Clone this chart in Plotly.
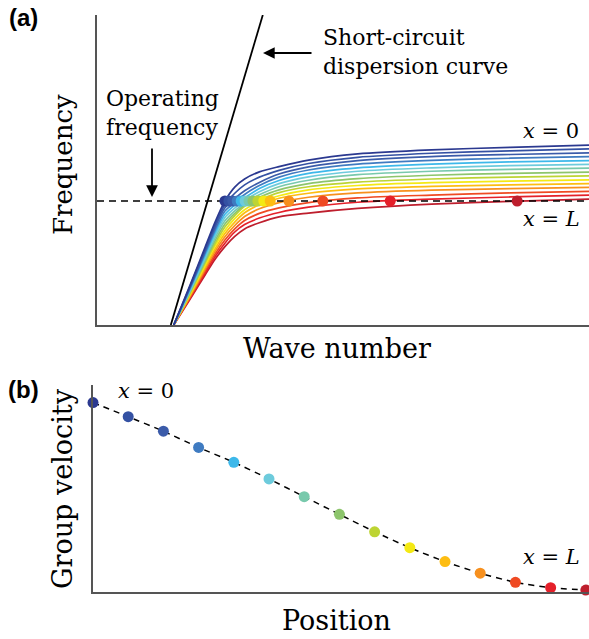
import plotly.graph_objects as go

# ---------------- data: panel (a) dispersion curves ----------------
wave_number = [1.56, 1.9, 2.2, 2.4, 2.6, 2.8, 3.0, 3.3, 3.7, 4.3, 5.3, 6.8, 8.4, 10.0]

freq_x00 = [0, 1.32, 2.52, 3.32, 4.00, 4.45, 4.71, 4.94, 5.11, 5.32, 5.52, 5.65, 5.73, 5.80]
freq_x01 = [0, 1.29, 2.46, 3.23, 3.89, 4.25, 4.52, 4.77, 4.99, 5.21, 5.41, 5.54, 5.62, 5.68]
freq_x02 = [0, 1.25, 2.39, 3.15, 3.78, 4.08, 4.33, 4.60, 4.87, 5.10, 5.30, 5.43, 5.50, 5.55]
freq_x03 = [0, 1.22, 2.33, 3.06, 3.68, 3.95, 4.21, 4.50, 4.77, 5.00, 5.19, 5.31, 5.38, 5.43]
freq_x04 = [0, 1.19, 2.26, 2.98, 3.57, 3.87, 4.10, 4.40, 4.66, 4.89, 5.07, 5.19, 5.26, 5.30]
freq_x05 = [0, 1.15, 2.20, 2.89, 3.47, 3.77, 4.01, 4.30, 4.56, 4.78, 4.96, 5.07, 5.14, 5.18]
freq_x06 = [0, 1.12, 2.13, 2.81, 3.36, 3.68, 3.93, 4.20, 4.46, 4.67, 4.85, 4.96, 5.02, 5.06]
freq_x07 = [0, 1.09, 2.07, 2.72, 3.26, 3.60, 3.88, 4.12, 4.36, 4.56, 4.72, 4.83, 4.89, 4.93]
freq_x08 = [0, 1.05, 2.01, 2.63, 3.16, 3.53, 3.83, 4.04, 4.27, 4.46, 4.61, 4.71, 4.77, 4.81]
freq_x09 = [0, 1.02, 1.94, 2.55, 3.05, 3.43, 3.72, 3.96, 4.17, 4.36, 4.50, 4.59, 4.64, 4.68]
freq_x10 = [0, 0.99, 1.88, 2.46, 2.95, 3.32, 3.62, 3.88, 4.09, 4.25, 4.39, 4.47, 4.52, 4.56]
freq_x11 = [0, 0.95, 1.81, 2.38, 2.85, 3.21, 3.50, 3.75, 3.95, 4.12, 4.26, 4.35, 4.40, 4.44]
freq_x12 = [0, 0.92, 1.75, 2.29, 2.74, 3.10, 3.37, 3.60, 3.78, 3.95, 4.10, 4.19, 4.26, 4.31]
freq_x13 = [0, 0.89, 1.68, 2.21, 2.64, 3.00, 3.24, 3.45, 3.63, 3.80, 3.96, 4.06, 4.13, 4.19]
freq_x14 = [0, 0.85, 1.62, 2.12, 2.53, 2.86, 3.10, 3.30, 3.49, 3.61, 3.76, 3.90, 3.99, 4.06]

short_circuit_k = [1.50, 3.37]
short_circuit_f = [0.0, 10.0]

operating_frequency = 4.0
operating_k = [0.0, 10.0]

dot_wave_number = [2.60, 2.68, 2.76, 2.85, 2.93, 3.01, 3.09, 3.17, 3.27, 3.39, 3.52, 3.90, 4.59, 5.96, 8.54]

# ---------------- data: panel (b) group velocity ----------------
position = [0, 1, 2, 3, 4, 5, 6, 7, 8, 9, 10, 11, 12, 13, 14]
group_velocity = [0.915, 0.847, 0.777, 0.699, 0.627, 0.547, 0.461, 0.376,
                  0.292, 0.215, 0.148, 0.092, 0.048, 0.022, 0.011]

# ---------------- styles ----------------
colors = ["#2B3990", "#3451A3", "#3B5BA9", "#3F7BC1", "#3DB8EA", "#6DCBDC",
          "#78C9AC", "#8DC56C", "#BDD433", "#F4E914", "#FDBD12", "#F7901E",
          "#EF4A23", "#E5202A", "#BE1E2D"]

curves = [freq_x00, freq_x01, freq_x02, freq_x03, freq_x04, freq_x05, freq_x06,
          freq_x07, freq_x08, freq_x09, freq_x10, freq_x11, freq_x12, freq_x13, freq_x14]

W, H = 589, 639
SERIF = "DejaVu Serif"

fig = go.Figure()

for i in range(len(curves) - 1, -1, -1):
    fig.add_trace(go.Scatter(
        x=wave_number, y=curves[i], mode="lines",
        line=dict(color=colors[i], width=1.7, shape="spline", smoothing=0.8),
        xaxis="x", yaxis="y", hoverinfo="skip", showlegend=False))

fig.add_trace(go.Scatter(
    x=short_circuit_k, y=short_circuit_f, mode="lines",
    line=dict(color="black", width=1.8), xaxis="x", yaxis="y",
    showlegend=False, hoverinfo="skip"))

fig.add_trace(go.Scatter(
    x=operating_k, y=[operating_frequency, operating_frequency], mode="lines",
    line=dict(color="black", width=1.5, dash="7px,5px"), xaxis="x", yaxis="y",
    showlegend=False, hoverinfo="skip"))

fig.add_trace(go.Scatter(
    x=dot_wave_number, y=[operating_frequency] * len(dot_wave_number), mode="markers",
    marker=dict(color=colors, size=11, line=dict(width=0)), xaxis="x", yaxis="y",
    showlegend=False, cliponaxis=False))

# panel (b)
fig.add_trace(go.Scatter(
    x=position, y=group_velocity, mode="lines",
    line=dict(color="black", width=1.5, dash="6px,5px", shape="spline", smoothing=0.6),
    xaxis="x2", yaxis="y2", showlegend=False, hoverinfo="skip"))
fig.add_trace(go.Scatter(
    x=position, y=group_velocity, mode="markers",
    marker=dict(color=colors, size=11, line=dict(width=0)),
    xaxis="x2", yaxis="y2", showlegend=False, cliponaxis=False))

axis_common = dict(showgrid=False, zeroline=False, showticklabels=False, ticks="",
                   showline=True, linecolor="#555555", linewidth=1.6, mirror=False,
                   fixedrange=True)

fig.update_layout(
    width=W, height=H,
    margin=dict(l=0, r=0, t=0, b=0),
    paper_bgcolor="white", plot_bgcolor="white",
    xaxis=dict(domain=[97 / W, 1.0], range=[0, 10], anchor="y", **axis_common),
    yaxis=dict(domain=[1 - 325 / H, 1 - 15 / H], range=[0, 10], anchor="x", **axis_common),
    xaxis2=dict(domain=[93 / W, 1.0], range=[0, 14.09], anchor="y2", **axis_common),
    yaxis2=dict(domain=[1 - 592.3 / H, 1 - 385 / H], range=[0, 1.0], anchor="x2", **axis_common),
)


def px(x, y):
    return x / W, 1 - y / H


annotations = []


def label(text, x, y, size, family=SERIF, angle=0, align="center"):
    xx, yy = px(x, y)
    annotations.append(dict(text=text, x=xx, y=yy, xref="paper", yref="paper",
                            showarrow=False, textangle=angle, align=align,
                            xanchor="center", yanchor="middle",
                            font=dict(family=family, size=size, color="black")))


label("<b>(a)</b>", 23, 18, 24, family="Liberation Sans, Arial")
label("<b>(b)</b>", 23, 389, 24, family="Liberation Sans, Arial")
label("Frequency", 63, 165, 26, angle=-90)
label("Wave number", 337, 348, 27)
label("Operating<br>frequency", 162, 113, 22, align="left")
label("Short-circuit<br>dispersion curve", 415, 52, 22, align="left")
label("<i>x</i> = 0", 551, 131, 21)
label("<i>x</i> = <i>L</i>", 551, 219, 21)
label("<i>x</i> = 0", 146, 391, 21)
label("<i>x</i> = <i>L</i>", 551, 557, 21)
label("Group velocity", 62, 489, 27, angle=-90)
label("Position", 336, 620, 27)

# arrows
hx, hy = px(263, 53)
annotations.append(dict(x=hx, y=hy, xref="paper", yref="paper", ax=50, ay=0,
                        text="", showarrow=True, arrowhead=2, arrowsize=1.3,
                        arrowwidth=1.8, arrowcolor="black"))
hx, hy = px(152, 197)
annotations.append(dict(x=hx, y=hy, xref="paper", yref="paper", ax=0, ay=-50,
                        text="", showarrow=True, arrowhead=2, arrowsize=1.3,
                        arrowwidth=1.8, arrowcolor="black"))

fig.update_layout(annotations=annotations)

fig.write_html(
    "out.html",
    config={"displayModeBar": False},
    post_script="document.body.style.margin='0';document.body.style.overflow='hidden';",
)
